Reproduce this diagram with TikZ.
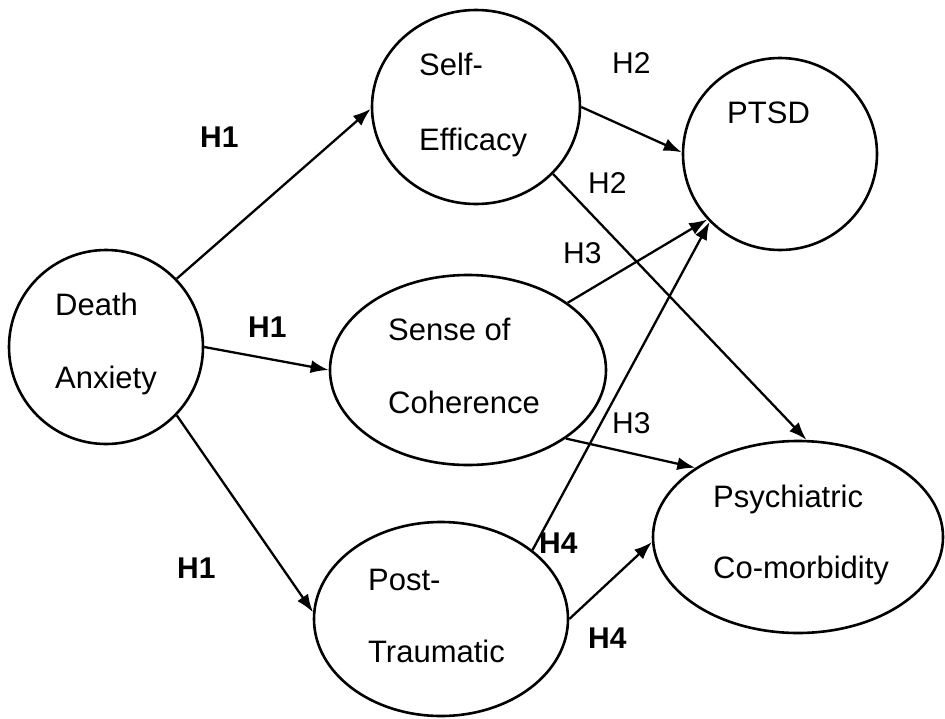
\documentclass[tikz,border=0pt]{standalone}
\usepackage{fontspec}
\setmainfont{Liberation Sans}
\usetikzlibrary{shapes.geometric,arrows.meta}

\begin{document}
\begin{tikzpicture}[x=1pt,y=-1pt,
  construct/.style={ellipse,draw,line width=2.6pt,inner sep=0pt},
  nodetext/.style={anchor=base west,inner sep=0pt,font=\fontsize{31}{31}\selectfont},
  hyp/.style={anchor=base west,inner sep=0pt,font=\fontsize{30}{30}\selectfont},
  hypb/.style={hyp,font=\fontsize{30}{30}\selectfont\bfseries},
  path/.style={line width=2.3pt,-{Latex[length=18pt,width=13pt]}}]
\useasboundingbox (0,0) rectangle (945,718);

% latent constructs
\node[construct,minimum width=194pt,minimum height=194pt] (da) at (106,347) {};
\node[construct,minimum width=208pt,minimum height=194pt] (se) at (476,107) {};
\node[construct,minimum width=194pt,minimum height=192pt] (ptsd) at (780,154) {};
\node[construct,minimum width=276pt,minimum height=190pt] (soc) at (468,370) {};
\node[construct,minimum width=254pt,minimum height=194pt] (pt) at (441,619) {};
\node[construct,minimum width=290pt,minimum height=192pt] (pc) at (798,537) {};

% construct names
\node[nodetext] (da1) at (55,315) {Death};
\node[nodetext] (da2) at (55,388) {Anxiety};
\node[nodetext] (se1) at (419,75) {Self-};
\node[nodetext] (se2) at (419,150) {Efficacy};
\node[nodetext] (ptsd1) at (727,123) {PTSD};
\node[nodetext] (soc1) at (388,340) {Sense of};
\node[nodetext] (soc2) at (388,413) {Coherence};
\node[nodetext] (pc1) at (713,507) {Psychiatric};
\node[nodetext] (pc2) at (713,578) {Co-morbidity};
\node[nodetext] (pt1) at (368,590) {Post-};
\node[nodetext] (pt2) at (368,662) {Traumatic};

% hypothesised paths
\draw[path] (da.44.6) -- (se.181.7);
\draw[path] (da.-0.6) -- (soc.180);
\draw[path] (da.-44.6) -- (pt.177.3);
\draw[path] (se.0) -- (ptsd.179.4);
\draw[path] (se.-41.7) -- (pc.85.9);
\draw[path] (soc.34.5) -- (ptsd.222.2);
\draw[path] (soc.-35) -- (pc.146.4);
\draw[path] (pt.37.2) -- (ptsd.224.2);
\draw[path] (pt.0.5) -- (pc.182.4);

% hypothesis labels
\node[hypb] (h1a) at (200,147) {H1};
\node[hypb] (h1b) at (248,337) {H1};
\node[hypb] (h1c) at (177,578) {H1};
\node[hyp] (h2a) at (612,73) {H2};
\node[hyp] (h2b) at (588,193) {H2};
\node[hyp] (h3a) at (563,263) {H3};
\node[hyp] (h3b) at (612,433) {H3};
\node[hypb] (h4a) at (539,553) {H4};
\node[hypb] (h4b) at (588,648) {H4};
\end{tikzpicture}
\end{document}
